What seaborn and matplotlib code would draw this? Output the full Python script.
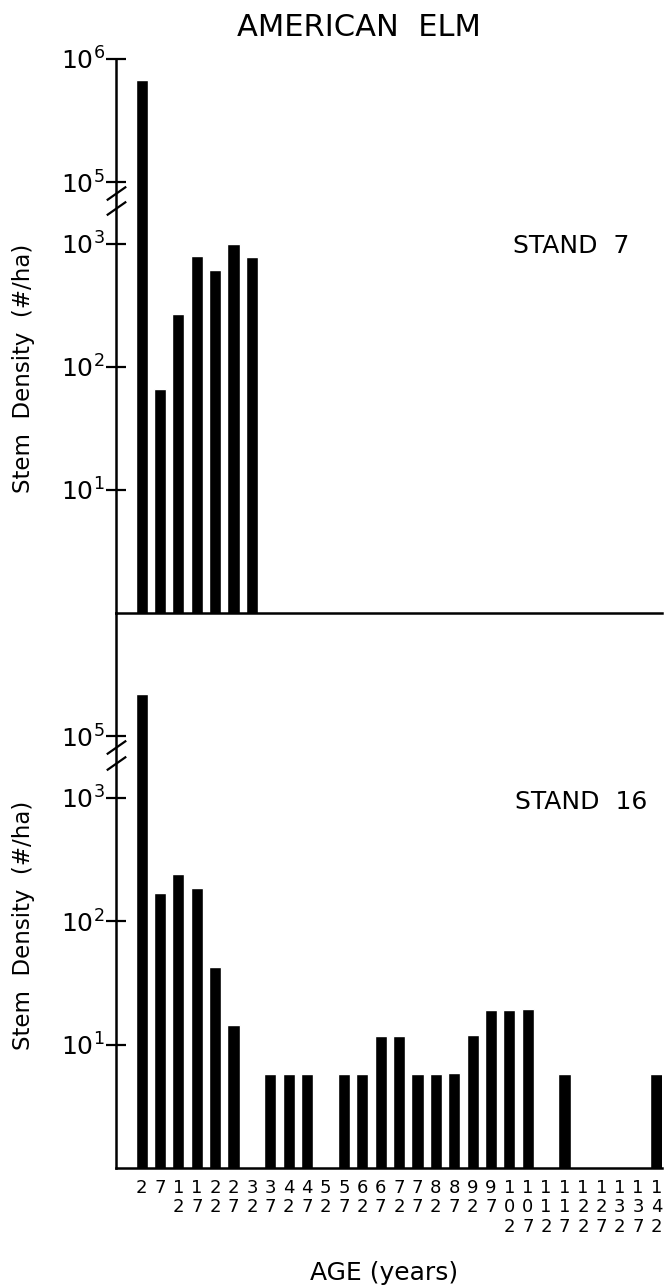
import numpy as np
import pandas as pd
import matplotlib.pyplot as plt
import seaborn as sns

# Age classes (years) and stem densities (#/ha)
AGES = [2, 7, 12, 17, 22, 27, 32, 37, 42, 47, 52, 57, 62, 67, 72,
        77, 82, 87, 92, 97, 102, 107, 112, 117, 122, 127, 132, 137, 142]
STAND_7 = [680000, 66, 270, 795, 615, 990, 785, 0, 0, 0, 0, 0, 0, 0, 0,
           0, 0, 0, 0, 0, 0, 0, 0, 0, 0, 0, 0, 0, 0]
STAND_16 = [220000, 171, 241, 186, 43, 14.5, 0, 5.8, 5.8, 5.8, 0, 5.8, 5.8, 11.8, 11.8,
            5.8, 5.8, 5.9, 12, 19, 19, 19.3, 0, 5.8, 0, 0, 0, 0, 5.8]
PANELS = ["STAND  7", "STAND  16"]

Y_TICKS = [10, 100, 1000, 1e5, 1e6]
Y_TICKLABELS = ["$10^1$", "$10^2$", "$10^3$", "$10^5$", "$10^6$"]


# broken log axis: 10^3..10^5 squeezed into half a decade
def fwd(v):
    lv = np.log10(np.clip(np.asarray(v, dtype=float), 1e-2, None))
    return np.where(lv <= 3, lv, np.where(lv >= 5, lv - 1.5, 3 + (lv - 3) * 0.25))


def inv(y):
    y = np.asarray(y, dtype=float)
    lv = np.where(y <= 3, y, np.where(y >= 3.5, y + 1.5, 3 + (y - 3) * 4))
    return 10 ** lv


sns.set_style("white")
plt.rcParams['font.family'] = ['DejaVu Sans']
plt.rcParams['text.color'] = 'black'
plt.rcParams['xtick.color'] = 'black'
plt.rcParams['ytick.color'] = 'black'

df = pd.DataFrame({"age": AGES, "STAND  7": STAND_7, "STAND  16": STAND_16})

fig = plt.figure(figsize=(6.66, 12.87), dpi=100)
ax_top = fig.add_axes([0.174, 0.5237, 0.820, 0.4305])
ax_bot = fig.add_axes([0.174, 0.0925, 0.820, 0.4312])
ax_bot.patch.set_visible(False)

for ax, stand in zip([ax_top, ax_bot], PANELS):
    sns.barplot(data=df, x="age", y=stand, color="black", saturation=1,
                width=0.66, errorbar=None, ax=ax)
    ax.set_yscale("function", functions=(fwd, inv))
    ax.set_ylim(1, 1e6)
    ax.set_xlim(-1.4, 28.3)
    ax.set_xlabel("")
    ax.set_ylabel("")
    for side in ["top", "right"]:
        ax.spines[side].set_visible(False)
    for side in ["left", "bottom"]:
        ax.spines[side].set_linewidth(1.8)
        ax.spines[side].set_color("black")
    ax.minorticks_off()
    ax.tick_params(axis="y", left=True, direction="inout", length=14, width=1.6,
                   labelsize=18, pad=1, colors="black")
    # break marks on the y axis
    for yv in (10 ** 4.15, 10 ** 4.65):
        ax.plot([0], [yv], marker=[(-1, -0.7), (1, 0.7)], markersize=14,
                mew=1.6, color="black", linestyle="none",
                transform=ax.get_yaxis_transform(), clip_on=False)

ax_top.set_yticks(Y_TICKS)
ax_top.set_yticklabels(Y_TICKLABELS)
ax_top.tick_params(axis="x", bottom=False, length=0, labelbottom=False)

ax_bot.set_yticks(Y_TICKS[:4])
ax_bot.set_yticklabels(Y_TICKLABELS[:4])
ax_bot.set_xticks(range(len(AGES)))
ax_bot.set_xticklabels(["\n".join(str(a)) for a in AGES], fontsize=13,
                       linespacing=1.1)
ax_bot.tick_params(axis="x", bottom=False, length=0, pad=8)

fig.text(0.356, 0.979, "AMERICAN  ELM", fontsize=22, ha="left", va="center")
fig.text(0.770, 0.809, PANELS[0], fontsize=18, ha="left", va="center")
fig.text(0.773, 0.377, PANELS[1], fontsize=18, ha="left", va="center")
fig.text(0.035, 0.714, "Stem  Density  (#/ha)", fontsize=16.5, rotation=90,
         ha="center", va="center")
fig.text(0.035, 0.281, "Stem  Density  (#/ha)", fontsize=16.5, rotation=90,
         ha="center", va="center")
fig.text(0.577, 0.011, "AGE (years)", fontsize=18, ha="center", va="center")

plt.savefig("out.png", dpi=100)
